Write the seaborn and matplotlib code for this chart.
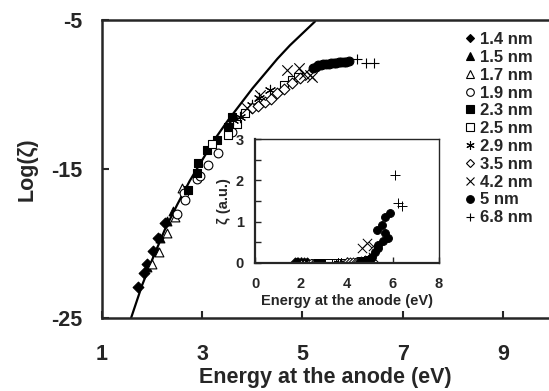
import matplotlib
matplotlib.use("Agg")
import matplotlib.pyplot as plt
import seaborn as sns
import pandas as pd
from matplotlib.lines import Line2D

# ---- data: energy at the anode (eV) vs Log(zeta) ----
labels = ["1.4 nm", "1.5 nm", "1.7 nm", "1.9 nm", "2.3 nm", "2.5 nm",
          "2.9 nm", "3.5 nm", "4.2 nm", "5 nm", "6.8 nm"]

e_14 = [1.72, 1.83, 1.89, 2.02, 2.12, 2.26]
y_14 = [-22.9, -22.0, -21.4, -20.5, -19.6, -18.6]
e_15 = [1.89, 2.09, 2.16, 2.29, 2.42]
y_15 = [-21.6, -20.5, -19.6, -18.5, -17.8]
e_17 = [1.99, 2.13, 2.29, 2.45, 2.59]
y_17 = [-21.4, -20.6, -19.3, -18.2, -16.3]
e_19 = [2.49, 2.63, 2.66, 2.89, 2.96, 3.12, 3.32, 3.59]
y_19 = [-18.0, -16.6, -17.1, -15.7, -15.5, -14.7, -13.9, -12.5]
e_23 = [2.72, 2.89, 2.92, 3.09, 3.29, 3.52, 3.60]
y_23 = [-16.4, -15.3, -14.6, -13.7, -13.05, -12.2, -11.5]
e_25 = [3.20, 3.52, 3.70, 3.86, 4.63, 4.80, 4.92]
y_25 = [-13.3, -12.7, -12.0, -11.25, -9.36, -9.0, -8.8]
e_29 = [3.62, 3.76, 3.99, 4.13, 4.36]
y_29 = [-11.7, -11.5, -10.7, -10.25, -9.7]
e_35 = [4.00, 4.12, 4.25, 4.38, 4.50, 4.63, 4.80, 4.96]
y_35 = [-10.9, -10.8, -10.5, -10.3, -9.9, -9.6, -9.25, -8.9]
e_42 = [3.89, 4.16, 4.69, 4.93, 5.03, 5.16, 5.19]
y_42 = [-10.9, -10.0, -8.36, -8.25, -8.6, -8.7, -8.8]
e_50 = [5.22, 5.27, 5.32, 5.37, 5.42, 5.47, 5.52, 5.57, 5.62, 5.67,
        5.72, 5.77, 5.82, 5.87, 5.93]
y_50 = [-8.25, -8.15, -8.05, -8.0, -7.98, -7.95, -7.93, -7.9, -7.88, -7.87,
        -7.85, -7.83, -7.82, -7.8, -7.78]
e_68 = [6.09, 6.26, 6.43]
y_68 = [-7.64, -7.86, -7.86]

# solid model curve
curve_e = [1.55, 1.8, 2.0, 2.25, 2.5, 2.75, 3.0, 3.25, 3.5, 3.75,
           4.0, 4.25, 4.5, 4.75, 5.0, 5.25]
curve_y = [-25.3, -22.8, -21.1, -19.1, -17.4, -15.8, -14.4, -13.0, -11.8, -10.7,
           -9.6, -8.6, -7.6, -6.7, -5.9, -5.1]

# inset: zeta in arbitrary units (linear scale)
z_14 = [0, 0, 0, 0, 0, 0]
z_15 = [0, 0, 0, 0, 0]
z_17 = [0, 0, 0, 0, 0]
z_19 = [0, 0, 0, 0, 0, 0, 0, 0]
z_23 = [0, 0, 0, 0, 0, 0, 0]
z_25 = [0, 0, 0, 0, 0.04, 0.06, 0.08]
z_29 = [0, 0, 0, 0, 0.01]
z_35 = [0, 0, 0, 0, 0.01, 0.02, 0.04, 0.07]
ie_42 = [4.64, 4.86, 5.14, 5.13]
iz_42 = [0.36, 0.48, 0.40, 0.15]
ie_50 = [4.55, 4.7, 4.85, 5.0, 5.1, 5.2, 5.29, 5.35, 5.35, 5.51, 5.57, 5.65, 5.65, 5.78, 5.87]
iz_50 = [0.03, 0.05, 0.08, 0.1, 0.15, 0.27, 0.8, 0.44, 0.36, 0.92, 0.52, 1.12, 0.73, 0.6, 1.22]
ie_68 = [6.09, 6.23, 6.38]
iz_68 = [2.13, 1.45, 1.38]

main_e = [e_14, e_15, e_17, e_19, e_23, e_25, e_29, e_35, e_42, e_50, e_68]
main_y = [y_14, y_15, y_17, y_19, y_23, y_25, y_29, y_35, y_42, y_50, y_68]
inset_e = [e_14, e_15, e_17, e_19, e_23, e_25, e_29, e_35, ie_42, ie_50, ie_68]
inset_z = [z_14, z_15, z_17, z_19, z_23, z_25, z_29, z_35, iz_42, iz_50, iz_68]

# marker, filled?
styles = [("D", True), ("^", True), ("^", False), ("o", False), ("s", True),
          ("s", False), ((6, 2, 0), None), ("D", False), ("x", None),
          ("o", True), ("+", None)]

sns.set_style("ticks")
plt.rcParams["font.family"] = ["Liberation Sans", "DejaVu Sans"]
plt.rcParams["font.weight"] = "bold"
plt.rcParams["axes.labelweight"] = "bold"
plt.rcParams["axes.unicode_minus"] = False


def draw(ax, xs, ys, marker, filled, size, lw):
    df = pd.DataFrame({"x": xs, "y": ys})
    if filled is None:
        sns.scatterplot(data=df, x="x", y="y", marker=marker, color="black",
                        s=size * 1.4, linewidth=lw, ax=ax, legend=False)
    else:
        sns.scatterplot(data=df, x="x", y="y", marker=marker,
                        color="black" if filled else "white",
                        edgecolor="black", s=size, linewidth=lw, ax=ax, legend=False)


fig = plt.figure(figsize=(5.49, 3.91), dpi=100)
ax = fig.add_axes([0.1858, 0.1867, 0.8142, 0.7621])

sns.lineplot(x=curve_e, y=curve_y, color="black", linewidth=1.6, ax=ax, zorder=1)
for xs, ys, (m, f) in zip(main_e, main_y, styles):
    size = 30 if m in ("D",) else 40
    draw(ax, xs, ys, m, f, size, 0.8)

ax.set_xlim(1, 9.92)
ax.set_ylim(-25, -5)
ax.set_xticks([1, 3, 5, 7, 9])
ax.set_yticks([-25, -15, -5])
ax.tick_params(direction="in", length=5, width=1.5, labelsize=15.5)
ax.tick_params(axis="x", pad=19)
ax.tick_params(axis="y", pad=14)
for s in ["left", "bottom", "top"]:
    ax.spines[s].set_linewidth(1.8)
ax.spines["right"].set_visible(False)
ax.set_xlabel("Energy at the anode (eV)", fontsize=15.5, labelpad=1)
ax.set_ylabel("Log(ζ)", fontsize=15.5, labelpad=10)
for t in ax.get_xticklabels() + ax.get_yticklabels():
    t.set_fontweight("bold")

# legend
handles = []
for lab, (m, f) in zip(labels, styles):
    if f is None:
        h = Line2D([], [], linestyle="none", marker=m, color="black",
                   markersize=6, markeredgewidth=0.8)
    else:
        h = Line2D([], [], linestyle="none", marker=m,
                   markerfacecolor="black" if f else "white",
                   markeredgecolor="black", markersize=5.5 if m != "D" else 4.5,
                   markeredgewidth=0.8)
    handles.append(h)
leg = ax.legend(handles, labels, loc="upper left",
                bbox_to_anchor=(465 / 549, 1 - 32 / 391),
                bbox_transform=fig.transFigure,
                frameon=False, fontsize=12, handlelength=0.6,
                handletextpad=0.3, labelspacing=0.17, borderaxespad=0,
                borderpad=0)
for t in leg.get_texts():
    t.set_fontweight("bold")

# inset
axin = fig.add_axes([0.4645, 0.3274, 0.3351, 0.3171])
for xs, zs, (m, f) in zip(inset_e, inset_z, styles):
    draw(axin, xs, zs, m, f, 32, 0.7)
axin.set_xlim(0, 8)
axin.set_ylim(0, 3)
axin.set_xticks([0, 2, 4, 6, 8])
axin.set_yticks([0, 1, 2, 3])
axin.set_yticks([0.5, 1.5, 2.5], minor=True)
axin.tick_params(direction="in", length=4, width=1, labelsize=10.5)
axin.tick_params(axis="x", pad=10)
axin.tick_params(axis="y", pad=8)
axin.tick_params(axis="y", which="minor", direction="in", length=4, width=1)
for s in axin.spines.values():
    s.set_linewidth(1.0)
axin.spines["bottom"].set_linewidth(1.6)
axin.spines["left"].set_linewidth(1.6)
axin.set_xlabel("Energy at the anode (eV)", fontsize=10.5, labelpad=2)
axin.set_ylabel("ζ (a.u.)", fontsize=10.5, labelpad=3)
for t in axin.get_xticklabels() + axin.get_yticklabels():
    t.set_fontweight("bold")

fig.savefig("out.png", dpi=100)
